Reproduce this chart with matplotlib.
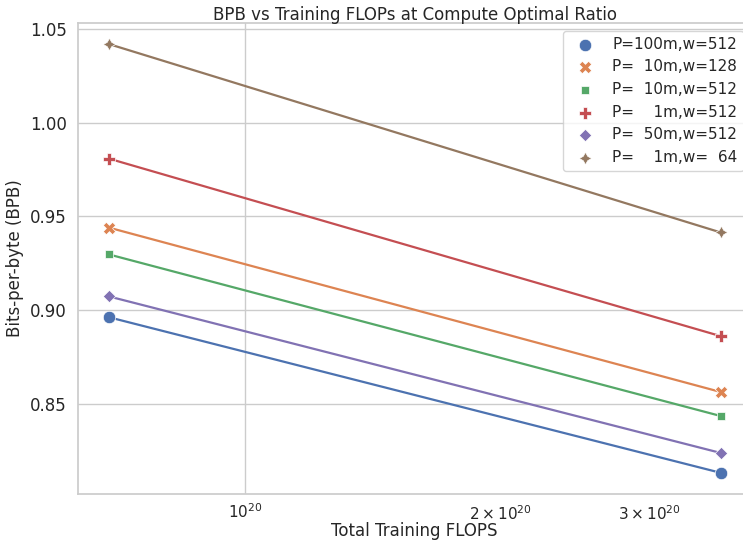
import numpy as np
import matplotlib.pyplot as plt
import seaborn as sns

sns.set_theme(style="whitegrid")

# data to plot
flops = [6.9e19, 3.64e20]
labels = ['P=100m,w=512', 'P=  10m,w=128', 'P=  10m,w=512',
          'P=    1m,w=512', 'P=  50m,w=512', 'P=    1m,w=  64']
bpb = [
    [0.8963, 0.8133],
    [0.9441, 0.8564],
    [0.9298, 0.8436],
    [0.9809, 0.8862],
    [0.9074, 0.8239],
    [1.0420, 0.9415],
]
markers = ['o', 'X', (4, 0, 45), 'P', (4, 0, 0), (4, 1, 0)]
colors = sns.color_palette('deep', 6)

fig = plt.figure(figsize=(7.43, 5.42), dpi=100)
ax = fig.add_axes([0.105, 0.0886, 0.906, 0.869])

handles = []
for i in range(len(labels)):
    ax.plot(flops, bpb[i], color=colors[i], linewidth=1.6, zorder=2)
    h = ax.scatter(flops, bpb[i], marker=markers[i], color=colors[i],
                   s=80, label=labels[i], zorder=3, edgecolor='white',
                   linewidth=0.5)
    handles.append(h)

ax.set_xscale('log')
ax.set_ylim(0.802, 1.0532)
ax.set_yticks([0.85, 0.90, 0.95, 1.00, 1.05])
ax.tick_params(axis='y', labelsize=12, pad=2)
ax.tick_params(axis='x', labelsize=11, pad=0)
ax.set_xlabel('Total Training FLOPS', fontsize=12, labelpad=-1)
ax.set_ylabel('Bits-per-byte (BPB)', fontsize=12, labelpad=4)
ax.set_title('BPB vs Training FLOPs at Compute Optimal Ratio', fontsize=12, pad=2)
ax.legend(handles=handles, loc='upper right', fontsize=11)

fig.savefig('out.png', dpi=100)
